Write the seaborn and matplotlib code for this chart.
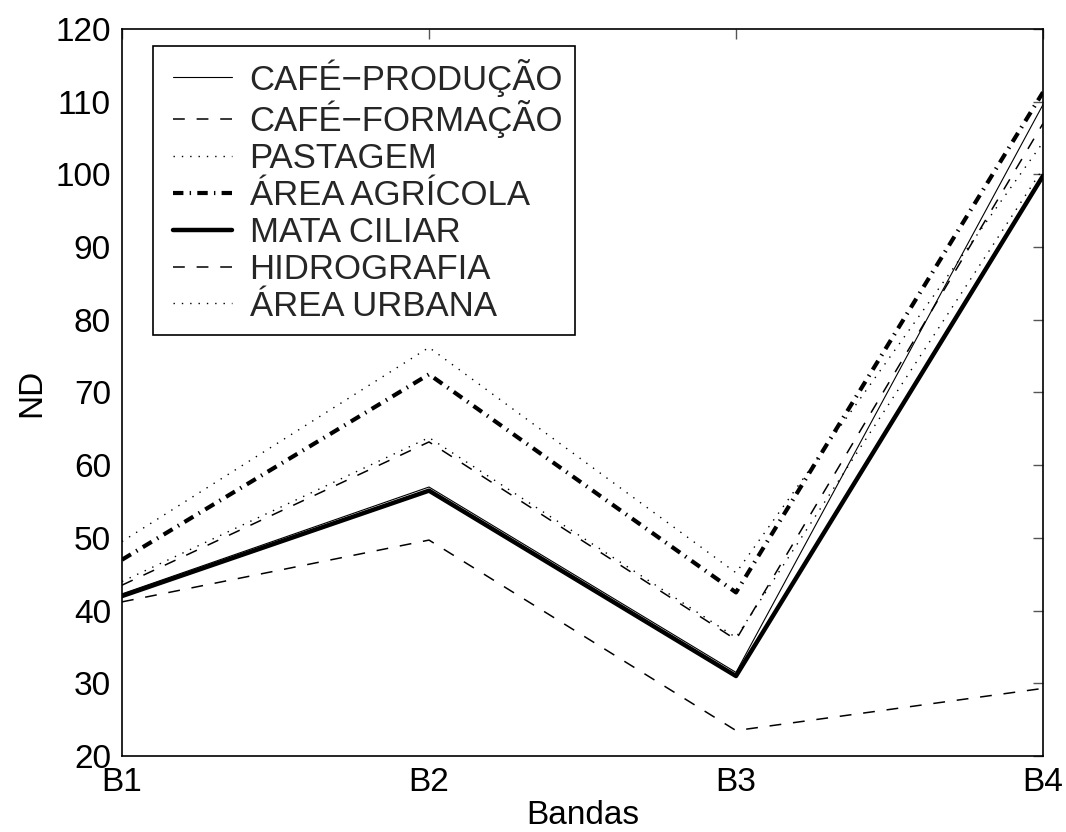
import matplotlib
matplotlib.use("Agg")
import matplotlib.pyplot as plt
from matplotlib.legend_handler import HandlerLine2D
import seaborn as sns
import pandas as pd

bands = ["B1", "B2", "B3", "B4"]
cafe_producao = [42.3, 57.0, 31.5, 109.6]
cafe_formacao = [43.5, 63.2, 36.0, 107.0]
pastagem = [44.0, 63.8, 36.3, 100.8]
area_agricola = [47.0, 72.5, 42.5, 111.3]
mata_ciliar = [42.0, 56.5, 31.0, 99.8]
hidrografia = [41.2, 49.7, 23.5, 29.3]
area_urbana = [49.5, 76.2, 45.2, 104.4]

labels = ["CAFÉ−PRODUÇÃO", "CAFÉ−FORMAÇÃO", "PASTAGEM", "ÁREA AGRÍCOLA",
          "MATA CILIAR", "HIDROGRAFIA", "ÁREA URBANA"]
series = [cafe_producao, cafe_formacao, pastagem, area_agricola,
          mata_ciliar, hidrografia, area_urbana]

styles = [
    dict(linewidth=0.8, linestyle="-"),
    dict(linewidth=1.1, linestyle=(0, (8.5, 8.5))),
    dict(linewidth=1.0, linestyle=(0, (1.0, 5.0))),
    dict(linewidth=3.0, linestyle=(0, (7.5, 4.5, 1.0, 4.5))),
    dict(linewidth=3.2, linestyle="-"),
    dict(linewidth=1.1, linestyle=(0, (8.5, 8.5))),
    dict(linewidth=1.0, linestyle=(0, (1.0, 5.0))),
]

sns.set_theme(style="white")
plt.rcParams["font.family"] = ["Liberation Sans", "DejaVu Sans"]
plt.rcParams["lines.scale_dashes"] = False
plt.rcParams["axes.unicode_minus"] = True

FS = 24
LFS = 25

fig = plt.figure(figsize=(10.66, 8.32), dpi=100)
ax = fig.add_axes([122 / 1066, 76 / 832, 921 / 1066, 727 / 832])

for lab, vals, st in zip(labels, series, styles):
    df = pd.DataFrame({"Banda": bands, "ND": vals})
    sns.lineplot(data=df, x="Banda", y="ND", ax=ax, color="black",
                 label=lab, sort=False, **st)

ax.set_xlim(0, 3)
ax.set_ylim(20, 120)
ax.set_yticks(range(20, 121, 10))
ax.set_xticks(range(4))
ax.set_xticklabels(bands)

ax.tick_params(axis="both", which="both", direction="in", length=7, width=1,
               color="#555555", labelsize=FS, labelcolor="black",
               top=True, right=True)
ax.tick_params(axis="x", pad=8)
ax.tick_params(axis="y", pad=8)
for sp in ax.spines.values():
    sp.set_color("black")
    sp.set_linewidth(1.2)

ax.set_xlabel("Bandas", fontsize=FS, labelpad=1.5, color="black")
ax.set_ylabel("ND", fontsize=FS, labelpad=6, color="black")


class ShiftedLine(HandlerLine2D):
    def __init__(self, shift, **kw):
        super().__init__(**kw)
        self.shift = shift

    def create_artists(self, legend, orig_handle, xdescent, ydescent,
                       width, height, fontsize, trans):
        return super().create_artists(legend, orig_handle,
                                      xdescent - self.shift, ydescent,
                                      width - self.shift, height,
                                      fontsize, trans)


handles, labs = ax.get_legend_handles_labels()
hmap = {h: ShiftedLine(shift=5.8) for h in handles}
leg = ax.legend(handles, labs, loc="upper left",
                bbox_to_anchor=(0.0337, 0.976),
                borderaxespad=0, fontsize=LFS, frameon=True, fancybox=False,
                handlelength=1.93, handletextpad=0.5, labelspacing=0.11,
                borderpad=0.35, handler_map=hmap)
leg.get_frame().set_edgecolor("black")
leg.get_frame().set_linewidth(1.2)
leg.get_frame().set_alpha(1)

fig.savefig("out.png", dpi=100, facecolor="white")
